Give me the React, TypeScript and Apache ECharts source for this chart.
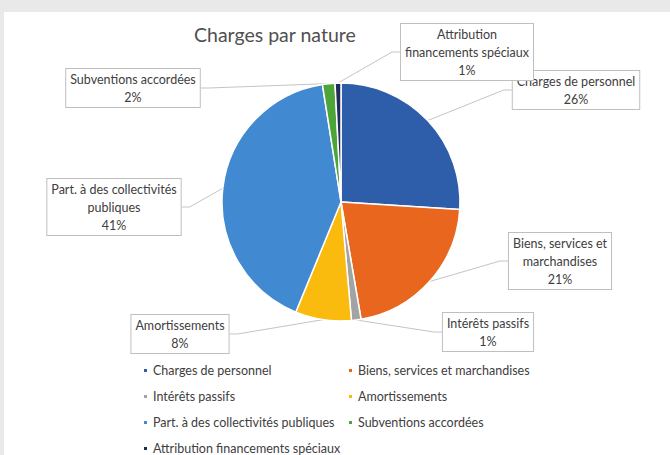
import React, { useEffect, useRef } from "react";
import * as echarts from "echarts";

const categories = [
  "Charges de personnel",
  "Biens, services et marchandises",
  "Intérêts passifs",
  "Amortissements",
  "Part. à des collectivités publiques",
  "Subventions accordées",
  "Attribution financements spéciaux",
];
const labelTexts = [
  "Charges de personnel",
  "Biens, services et\nmarchandises",
  "Intérêts passifs",
  "Amortissements",
  "Part. à des collectivités\npubliques",
  "Subventions accordées",
  "Attribution\nfinancements spéciaux",
];
const values = [26.0, 21.3, 1.3, 7.6, 41.3, 1.7, 0.8];
const colors = ["#2E5DA9", "#E8661E", "#A3A3A3", "#FBBA0E", "#4189D1", "#4DA53A", "#1F2B5A"];

// label box centres (layout only)
const labelPos: [number, number][] = [
  [576, 90],
  [560, 261],
  [488, 332],
  [180, 334],
  [114, 207],
  [133, 88],
  [467, 52],
];

const FONT = 'Lato, "Open Sans", sans-serif';
const TEXT = "#404040";

export default function App() {
  const ref = useRef<HTMLDivElement>(null);
  useEffect(() => {
    const chart = echarts.init(ref.current!, null, { renderer: "svg" });
    const legendText = { fontSize: 12.5, lineHeight: 12, color: TEXT, fontFamily: FONT };
    const legendBase = {
      orient: "vertical",
      top: 364,
      padding: 0,
      icon: "rect",
      itemWidth: 5,
      itemHeight: 5,
      itemGap: 13,
      textStyle: legendText,
    };
    chart.setOption({
      animation: false,
      backgroundColor: "transparent",
      title: {
        text: "Charges par nature",
        left: 189,
        top: 19,
        textStyle: { fontSize: 19.5, fontWeight: "normal", color: "#505050", fontFamily: FONT },
      },
      legend: [
        {
          ...legendBase,
          left: 142,
          data: [categories[0], categories[2], categories[4], categories[6]],
        },
        {
          ...legendBase,
          left: 347,
          data: [categories[1], categories[3], categories[5]],
        },
      ],
      series: [
        {
          type: "pie",
          center: [341, 202],
          radius: [0, 119],
          startAngle: 90,
          clockwise: true,
          percentPrecision: 0,
          itemStyle: { borderColor: "#fff", borderWidth: 1.5 },
          label: {
            show: true,
            position: "outside",
            formatter: (p: any) => labelTexts[p.dataIndex] + "\n" + p.percent + "%",
            fontSize: 12.5,
            lineHeight: 18,
            fontFamily: FONT,
            color: TEXT,
            align: "center",
            backgroundColor: "#fff",
            borderColor: "#bfbfbf",
            borderWidth: 1,
            padding: [1, 4],
          },
          labelLine: {
            show: true,
            length: 8,
            length2: 8,
            lineStyle: { color: "#c4c4c4", width: 1 },
          },
          labelLayout: (params: any) => {
            const pos = labelPos[params.dataIndex];
            return { x: pos[0], y: pos[1], align: "center", verticalAlign: "middle" };
          },
          emphasis: { disabled: true },
          data: categories.map((name, i) => ({
            name,
            value: values[i],
            itemStyle: { color: colors[i] },
          })),
        },
      ],
    });
    return () => chart.dispose();
  }, []);
  return (
    <div style={{ position: "absolute", left: 0, top: 0, width: 670, height: 455, background: "#e9e9e9" }}>
      <div style={{ position: "absolute", left: 4, top: 12, right: 0, bottom: 0, background: "#fff" }} />
      <div ref={ref} style={{ position: "absolute", left: 0, top: 0, width: 670, height: 455 }} />
    </div>
  );
}
